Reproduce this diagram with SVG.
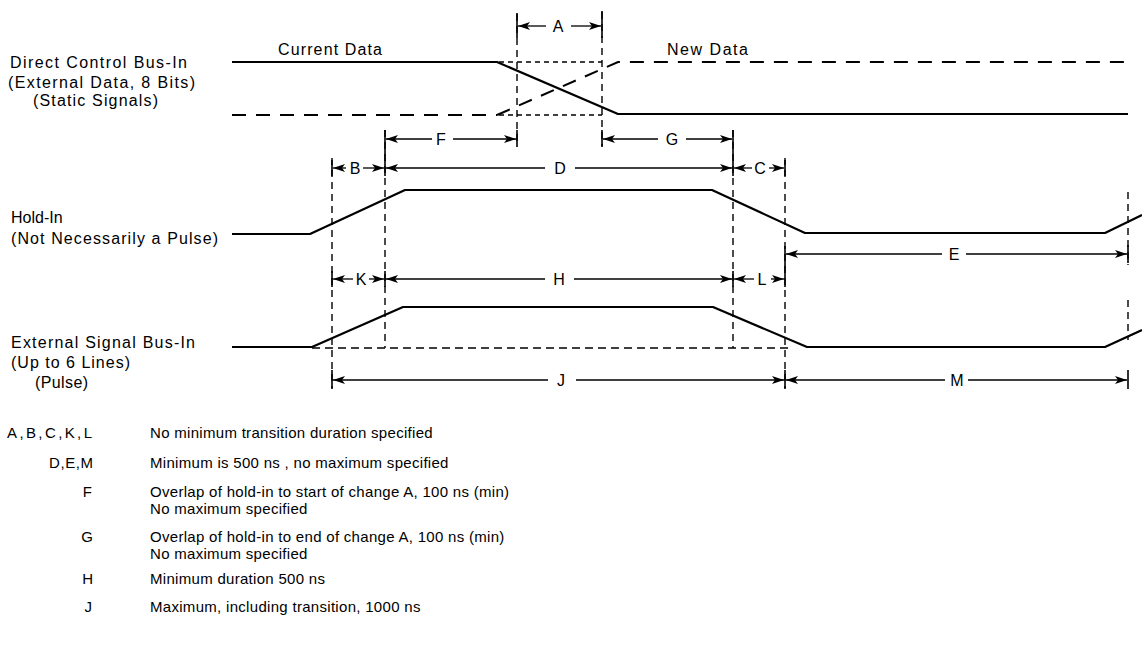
<svg xmlns="http://www.w3.org/2000/svg" width="1142" height="649" viewBox="0 0 1142 649">
<style>
text{font-family:"Liberation Sans",Arial,sans-serif;fill:#000}
.lbl{font-size:16px}
.dl{font-size:16px;text-anchor:middle}
.lg{font-size:15px;letter-spacing:0.3px}
.lk{font-size:15px;text-anchor:end}
.sig{stroke:#000;stroke-width:2.2;fill:none;stroke-linejoin:round}
.ld{stroke:#000;stroke-width:2;fill:none;stroke-dasharray:14 10}
.sd{stroke:#000;stroke-width:1.5;fill:none;stroke-dasharray:5 4}
.bd{stroke:#000;stroke-width:1.6;fill:none;stroke-dasharray:8 5}
.vd{stroke:#000;stroke-width:1.4;fill:none;stroke-dasharray:7 5}
.dim{stroke:#000;stroke-width:1.3;fill:none;marker-end:url(#ah)}
.tk{stroke:#000;stroke-width:1.6}
</style>
<defs>
<marker id="ah" viewBox="0 0 12 8" refX="12" refY="4" markerWidth="12" markerHeight="8" markerUnits="userSpaceOnUse" orient="auto">
<path d="M0,0 L12,4 L0,8 L3,4 z" fill="#000"/>
</marker>
</defs>
<rect width="1142" height="649" fill="#fff"/>

<g id="label-direct-control">
<text class="lbl" x="10" y="68" textLength="177" lengthAdjust="spacing">Direct Control Bus-In</text>
<text class="lbl" x="8" y="88" textLength="187" lengthAdjust="spacing">(External Data, 8 Bits)</text>
<text class="lbl" x="33" y="106" textLength="125" lengthAdjust="spacing">(Static Signals)</text>
</g>
<g id="label-hold-in">
<text class="lbl" x="11" y="223">Hold-In</text>
<text class="lbl" x="11" y="244" textLength="207" lengthAdjust="spacing">(Not Necessarily a Pulse)</text>
</g>
<g id="label-external-signal">
<text class="lbl" x="11" y="348" textLength="184" lengthAdjust="spacing">External Signal Bus-In</text>
<text class="lbl" x="11" y="368" textLength="119" lengthAdjust="spacing">(Up to 6 Lines)</text>
<text class="lbl" x="35" y="388" textLength="53" lengthAdjust="spacing">(Pulse)</text>
</g>

<g id="signal-direct-control">
<text class="lbl" x="278" y="55" textLength="104" lengthAdjust="spacing">Current Data</text>
<text class="lbl" x="667" y="55" textLength="81" lengthAdjust="spacing">New Data</text>
<path class="sig" d="M232,62 H497 L618,114 H1128"/>
<path class="ld" d="M232,115 H497"/>
<path class="ld" d="M497,115 L618,62 H1128"/>
<path class="sd" d="M499,62 H602 M499,115 H602"/>
</g>
<g id="signal-hold-in">
<path class="sig" d="M232,234 H310 L405,190 H712 L805,233 H1105 L1142,215"/>
</g>
<g id="signal-external">
<path class="sig" d="M232,347 H312 L403,307 H713 L807,347 H1105 L1142,330"/>
<path class="bd" d="M312,348 H790"/>
</g>

<g id="connectors">
<path class="vd" d="M517,14 V146 M602,12 V146 M385,130 V348 M733,130 V348 M332,158 V388 M785,158 V388 M1128,192 V265 M1128,300 V340"/>
<path class="tk" d="M517,13 V38 M602,11 V38 M517,130 V147 M602,130 V147 M385,130 V176 M733,130 V176 M332,160 V176 M785,160 V176 M1128,245 V263 M332,271 V287 M385,271 V287 M733,271 V287 M785,246 V287 M332,370 V389 M785,370 V389 M1128,370 V389"/>
<line class="dim" x1="546" y1="26" x2="518" y2="26"/>
<line class="dim" x1="571" y1="26" x2="601" y2="26"/>
<line class="dim" x1="432" y1="139" x2="386" y2="139"/>
<line class="dim" x1="453" y1="139" x2="516" y2="139"/>
<line class="dim" x1="658" y1="139" x2="603" y2="139"/>
<line class="dim" x1="686" y1="139" x2="732" y2="139"/>
<line class="dim" x1="346" y1="168" x2="333" y2="168"/>
<line class="dim" x1="363" y1="168" x2="384" y2="168"/>
<line class="dim" x1="545" y1="168" x2="386" y2="168"/>
<line class="dim" x1="575" y1="168" x2="732" y2="168"/>
<line class="dim" x1="752" y1="168" x2="734" y2="168"/>
<line class="dim" x1="769" y1="168" x2="784" y2="168"/>
<line class="dim" x1="942" y1="254" x2="786" y2="254"/>
<line class="dim" x1="966" y1="254" x2="1127" y2="254"/>
<line class="dim" x1="353" y1="279" x2="333" y2="279"/>
<line class="dim" x1="369" y1="279" x2="384" y2="279"/>
<line class="dim" x1="545" y1="279" x2="386" y2="279"/>
<line class="dim" x1="574" y1="279" x2="732" y2="279"/>
<line class="dim" x1="754" y1="279" x2="734" y2="279"/>
<line class="dim" x1="771" y1="279" x2="784" y2="279"/>
<line class="dim" x1="548" y1="380" x2="333" y2="380"/>
<line class="dim" x1="576" y1="380" x2="784" y2="380"/>
<line class="dim" x1="945" y1="380" x2="786" y2="380"/>
<line class="dim" x1="968" y1="380" x2="1127" y2="380"/>
</g>

<g id="dimension-labels">
<text class="dl" x="558" y="32">A</text>
<text class="dl" x="441" y="145">F</text>
<text class="dl" x="672" y="145">G</text>
<text class="dl" x="355" y="174">B</text>
<text class="dl" x="560" y="174">D</text>
<text class="dl" x="760" y="174">C</text>
<text class="dl" x="954" y="260">E</text>
<text class="dl" x="361" y="285">K</text>
<text class="dl" x="559" y="285">H</text>
<text class="dl" x="762" y="285">L</text>
<text class="dl" x="561" y="386">J</text>
<text class="dl" x="957" y="386">M</text>
</g>

<g id="legend">
<text class="lk" x="92" y="438" textLength="85" lengthAdjust="spacing">A,B,C,K,L</text>
<text class="lg" x="150" y="438">No minimum transition duration specified</text>
<text class="lk" x="93" y="468" textLength="44" lengthAdjust="spacing">D,E,M</text>
<text class="lg" x="150" y="468">Minimum is 500 ns , no maximum specified</text>
<text class="lk" x="92" y="497">F</text>
<text class="lg" x="150" y="497">Overlap of hold-in to start of change A, 100 ns (min)</text>
<text class="lg" x="150" y="514">No maximum specified</text>
<text class="lk" x="93" y="542">G</text>
<text class="lg" x="150" y="542">Overlap of hold-in to end of change A, 100 ns (min)</text>
<text class="lg" x="150" y="559">No maximum specified</text>
<text class="lk" x="93" y="584">H</text>
<text class="lg" x="150" y="584">Minimum duration 500 ns</text>
<text class="lk" x="92" y="612">J</text>
<text class="lg" x="150" y="612">Maximum, including transition, 1000 ns</text>
</g>
</svg>
